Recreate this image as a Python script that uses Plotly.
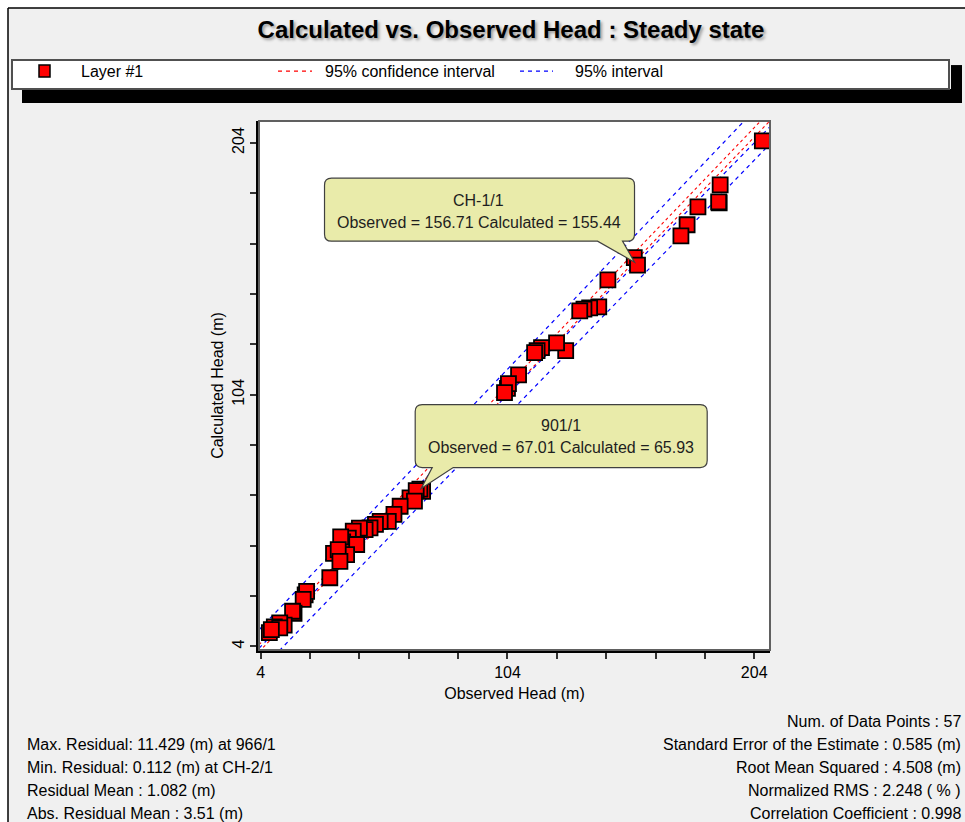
import plotly.graph_objects as go

# ---- observation points (observed head, calculated head), metres ----
observed = [
    207.3, 190.2, 189.8, 189.6, 181.2, 176.8, 174.3, 155.4, 156.71, 144.7,
    141.0, 137.3, 135.0, 133.3, 127.6, 123.9, 117.8, 116.0, 115.0, 108.5,
    104.0, 104.4, 102.8,
    69.6, 68.5, 64.5, 67.01, 66.3, 60.5, 58.0, 55.7, 52.4, 50.5,
    48.3, 46.3, 44.0, 41.5, 39.5, 37.2, 36.4, 42.9, 38.8, 33.5,
    35.4, 36.1, 32.0, 22.0, 22.6, 21.2, 17.5, 16.9, 13.5, 11.7,
    9.5, 11.7, 7.5, 8.3,
]
calculated = [
    204.8, 187.3, 180.2, 180.6, 178.6, 171.5, 167.1, 158.4, 155.44, 149.6,
    138.9, 138.5, 138.0, 137.3, 121.5, 124.6, 122.7, 121.5, 120.7, 111.9,
    106.5, 108.4, 104.8,
    65.6, 66.5, 63.0, 65.93, 61.7, 59.7, 56.5, 53.7, 53.7, 52.5,
    51.1, 50.4, 51.0, 49.8, 47.0, 45.5, 47.5, 44.5, 40.5, 41.0,
    42.5, 37.8, 31.3, 24.5, 25.9, 22.7, 17.2, 18.0, 12.5, 13.4,
    11.8, 11.4, 9.5, 10.7,
]

# ---- interval lines (end points: observed, calculated) ----
conf_upper_obs = [3.3, 210.4]
conf_upper_calc = [4.7, 216.6]
conf_lower_obs = [3.3, 210.4]
conf_lower_calc = [1.9, 212.8]
one_to_one_obs = [3.3, 210.4]
one_to_one_calc = [3.3, 210.4]
pred_upper_obs = [3.3, 201.0]
pred_upper_calc = [10.6, 213.8]
pred_lower_obs = [11.5, 210.4]
pred_lower_calc = [2.3, 203.6]

# ---- axis ticks ----
tick_values = [4, 24, 44, 64, 84, 104, 124, 144, 164, 184, 204]
tick_labels = ["4", "", "", "", "", "104", "", "", "", "", "204"]

# ---- labelled observation points ----
callout_names = ["CH-1/1", "901/1"]
callout_obs = [156.71, 67.01]
callout_calc = [155.44, 65.93]

# ---- statistics ----
stats_left = [
    "Max. Residual: 11.429 (m) at 966/1",
    "Min. Residual: 0.112 (m) at CH-2/1",
    "Residual Mean : 1.082 (m)",
    "Abs. Residual Mean : 3.51 (m)",
]
stats_right = [
    "Num. of Data Points : 57",
    "Standard Error of the Estimate : 0.585 (m)",
    "Root Mean Squared : 4.508 (m)",
    "Normalized RMS : 2.248 ( % )",
    "Correlation Coefficient : 0.998",
]

FONT = "Liberation Sans, Arial, sans-serif"
W, H = 965, 822
PL, PR, PT, PB = 259, 770, 121, 650.5   # plot area edges in pixels


def px(x):
    return (x - PL) / (PR - PL)


def py(y):
    return (PB - y) / (PB - PT)


fig = go.Figure()

red_dash = dict(color="#ff0000", width=1.1, dash="3px,3px")
blue_dash = dict(color="#0000ff", width=1.2, dash="4px,4px")
for xs, ys, style in [
    (pred_upper_obs, pred_upper_calc, blue_dash),
    (pred_lower_obs, pred_lower_calc, blue_dash),
    (one_to_one_obs, one_to_one_calc, blue_dash),
    (conf_upper_obs, conf_upper_calc, red_dash),
    (conf_lower_obs, conf_lower_calc, red_dash),
]:
    fig.add_trace(go.Scatter(x=xs, y=ys, mode="lines", line=style,
                             showlegend=False, hoverinfo="skip"))

fig.add_trace(go.Scatter(
    x=observed, y=calculated, mode="markers", name="Layer #1",
    marker=dict(symbol="square", size=15, color="#ff0000",
                line=dict(color="#000000", width=1.8)),
    showlegend=False,
))

shapes = []
annotations = []

# window frame
shapes += [
    dict(type="rect", xref="paper", yref="paper", x0=px(-5), x1=px(8), y0=py(830), y1=py(-5),
         fillcolor="white", line=dict(width=0), layer="above"),
    dict(type="rect", xref="paper", yref="paper", x0=px(-5), x1=px(970), y0=py(8), y1=py(-5),
         fillcolor="white", line=dict(width=0), layer="above"),
    dict(type="line", xref="paper", yref="paper", x0=px(8), x1=px(970), y0=py(8), y1=py(8),
         line=dict(color="black", width=1.5), layer="above"),
    dict(type="line", xref="paper", yref="paper", x0=px(8), x1=px(8), y0=py(8), y1=py(830),
         line=dict(color="black", width=1.5), layer="above"),
]

# legend panel with drop shadow
shapes += [
    dict(type="rect", xref="paper", yref="paper", x0=px(22), x1=px(962), y0=py(103), y1=py(89),
         fillcolor="black", line=dict(width=0), layer="above"),
    dict(type="rect", xref="paper", yref="paper", x0=px(951), x1=px(962), y0=py(103), y1=py(65),
         fillcolor="black", line=dict(width=0), layer="above"),
    dict(type="rect", xref="paper", yref="paper", x0=px(12), x1=px(949), y0=py(89), y1=py(60),
         fillcolor="white", line=dict(color="#505050", width=2), layer="above"),
    dict(type="rect", xref="paper", yref="paper", x0=px(39), x1=px(50), y0=py(77), y1=py(65),
         fillcolor="#ff0000", line=dict(color="black", width=1.5), layer="above"),
    dict(type="line", xref="paper", yref="paper", x0=px(278), x1=px(312), y0=py(71), y1=py(71),
         line=dict(color="#ff0000", width=1.2, dash="4px,4px"), layer="above"),
    dict(type="line", xref="paper", yref="paper", x0=px(520), x1=px(553), y0=py(71), y1=py(71),
         line=dict(color="#0000ff", width=1.2, dash="4px,4px"), layer="above"),
]
for text, x in [("Layer #1", 79), ("95% confidence interval", 323), ("95% interval", 573)]:
    annotations.append(dict(text=text, xref="paper", yref="paper", x=px(x), y=py(71),
                            xanchor="left", yanchor="middle", showarrow=False,
                            font=dict(family=FONT, size=16, color="black")))

# plot box: thin top/right border
shapes.append(dict(type="rect", xref="paper", yref="paper", x0=0, x1=1, y0=0, y1=1,
                   line=dict(color="#606060", width=2), layer="above"))


def bubble_path(left, right, top, bottom, tail_l, tail_r, tip_x, tip_y, r=7):
    def p(x, y):
        return f"{x},{-y}"
    return (f"M{p(left + r, top)} L{p(right - r, top)} Q{p(right, top)} {p(right, top + r)} "
            f"L{p(right, bottom - r)} Q{p(right, bottom)} {p(right - r, bottom)} "
            f"L{p(tail_r, bottom)} L{p(tip_x, tip_y)} L{p(tail_l, bottom)} "
            f"L{p(left + r, bottom)} Q{p(left, bottom)} {p(left, bottom - r)} "
            f"L{p(left, top + r)} Q{p(left, top)} {p(left + r, top)} Z")


# callout geometry, in pixels relative to the labelled point
bubble_geom = [
    dict(box=(-313, -3, -87, -24), tail=(-40, -15, -3, -3), text_dx=-159, rows=(-65, -43)),
    dict(box=(-1, 291, -86, -23), tail=(16, 37, 5, -2), text_dx=145, rows=(-65, -43)),
]
for name, ox, oc, g in zip(callout_names, callout_obs, callout_calc, bubble_geom):
    l, r, t, b = g["box"]
    tl, tr, tx, ty = g["tail"]
    shapes.append(dict(type="path", xref="x", yref="y", xsizemode="pixel", ysizemode="pixel",
                       xanchor=ox, yanchor=oc,
                       path=bubble_path(l, r, t, b, tl, tr, tx, ty),
                       fillcolor="#e9ebaa", line=dict(color="#404040", width=1.2),
                       layer="above"))
    rows = [name, f"Observed = {ox:.2f} Calculated = {oc:.2f}"]
    for text, dy in zip(rows, g["rows"]):
        annotations.append(dict(text=text, xref="x", yref="y", x=ox, y=oc,
                                xshift=g["text_dx"], yshift=-dy, showarrow=False,
                                xanchor="center", yanchor="middle",
                                font=dict(family=FONT, size=16, color="#1e1e1e")))

# statistics text
for i, text in enumerate(stats_left):
    annotations.append(dict(text=text, xref="paper", yref="paper", x=px(25), y=py(745 + 23 * i),
                            xanchor="left", yanchor="middle", showarrow=False,
                            font=dict(family=FONT, size=16, color="black")))
for i, text in enumerate(stats_right):
    annotations.append(dict(text=text, xref="paper", yref="paper", x=px(963), y=py(722 + 23 * i),
                            xanchor="right", yanchor="middle", showarrow=False,
                            font=dict(family=FONT, size=16, color="black")))

axis_common = dict(
    tickvals=tick_values, ticktext=tick_labels, ticks="outside", ticklen=6,
    tickwidth=1.5, tickcolor="#333333", showline=True, linecolor="black", linewidth=3,
    showgrid=False, zeroline=False, tickfont=dict(family=FONT, size=16, color="black"),
)

fig.update_layout(
    width=W, height=H, autosize=False,
    margin=dict(l=PL, r=W - PR, t=PT, b=H - PB, pad=0),
    paper_bgcolor="#f0f0f0", plot_bgcolor="white",
    font=dict(family=FONT, size=16, color="black"),
    title=dict(text="Calculated vs. Observed Head : Steady state",
               x=511 / W, y=1 - 30 / H, xanchor="center", yanchor="middle",
               xref="container", yref="container",
               font=dict(family=FONT, size=24, color="black", weight="bold",
                         shadow="2px 2px 3px #9a9a9a")),
    xaxis=dict(range=[3.3, 210.4], title=dict(text="Observed Head (m)", standoff=8,
                                                font=dict(family=FONT, size=16)),
               **axis_common),
    yaxis=dict(range=[2.6, 212.7], tickangle=-90,
               title=dict(text="Calculated Head (m)", standoff=2, font=dict(family=FONT, size=16)),
               **axis_common),
    shapes=shapes,
    annotations=annotations,
    showlegend=False,
)

fig.write_html("out.html")
